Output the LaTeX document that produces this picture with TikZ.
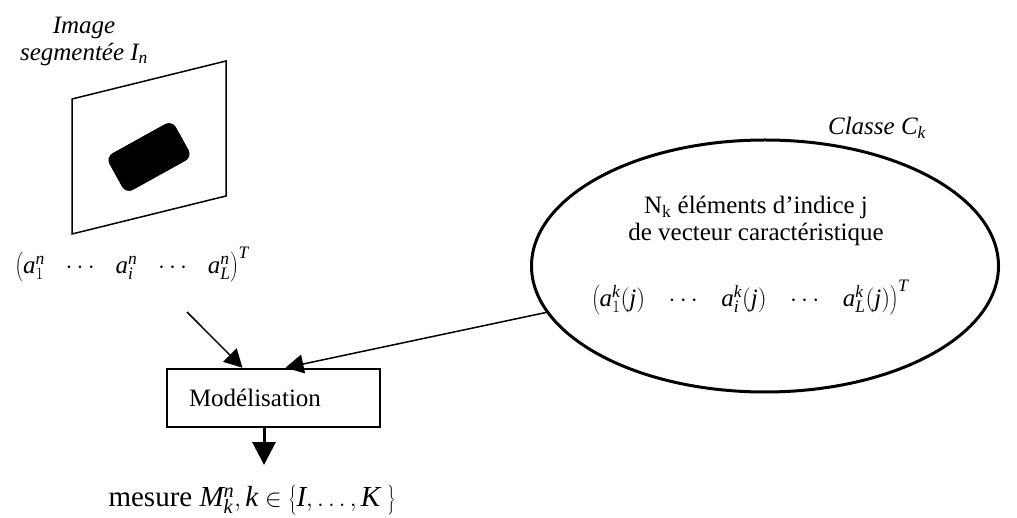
\documentclass[tikz,border=0pt]{standalone}
\usepackage{fontspec}
\setmainfont{Liberation Serif}
\usetikzlibrary{shapes.geometric, arrows.meta, positioning, calc}
\newcommand{\itm}[1]{\mathit{#1}}
\newcommand{\tallstrut}{\vrule height 20pt depth 9pt width 0pt}

\begin{document}
\begin{tikzpicture}[x=1pt, y=-1pt, every node/.style={font=\fontsize{25}{27}\selectfont, align=center, inner sep=0pt},
  inarrow/.style={-{Triangle[length=18pt,width=19pt]}, line width=1.5pt},
  outarrow/.style={-{Triangle[length=23pt,width=23pt]}, line width=3pt}]
\useasboundingbox (0,0) rectangle (1017,518);

% image segmentee
\node (imgTitle) [font=\fontsize{25}{27}\selectfont\itshape] at (84,41) {Image\\segmentée $\itm{I}_{\itm{n}}$};
\draw[line width=1.5pt] (72,99) -- (226,61) -- (226,196) -- (72,234) -- cycle;
\node (blob) [fill=black, rounded corners=8pt, minimum width=76pt, minimum height=42pt, rotate=29] at (149,157) {};
\node (imgVec) at (132,265) {$\left(\tallstrut\itm{a}_1^{\itm{n}} \enspace\,\cdots\enspace\, \itm{a}_{\itm{i}}^{\itm{n}} \enspace\,\cdots\enspace\, \itm{a}_{\itm{L}}^{\itm{n}}\right)^{\itm{T}}$};
\coordinate (fromImg) at (187,312);

% classe
\node (classe) [ellipse, draw, line width=3pt, minimum width=467pt, minimum height=252pt] at (765,266) {};
\node (classeName) [font=\fontsize{25}{27}\selectfont\itshape] at (877,128) {Classe $\itm{C}_{\itm{k}}$};
\node (elemText) at (756,221) {N\textsubscript{k} éléments d’indice j\\de vecteur caractéristique};
\node (classeVec) at (750,298) {$\left(\tallstrut\itm{a}_1^{\itm{k}}(\itm{j}) \enspace\;\cdots\enspace\; \itm{a}_{\itm{i}}^{\itm{k}}(\itm{j}) \enspace\;\cdots\enspace\; \itm{a}_{\itm{L}}^{\itm{k}}(\itm{j})\right)^{\itm{T}}$};

% modelisation
\node (modele) [draw, line width=2.5pt, minimum width=213pt, minimum height=58pt, text width=169pt, inner xsep=22pt, align=left] at (273.5,398) {Modélisation};
\node (mesure) [font=\fontsize{29}{31}\selectfont] at (252,500) {mesure $\itm{M}_{\itm{k}}^{\itm{n}}, \itm{k} \in \left\{\vrule height 22pt depth 9pt width 0pt\itm{I}, \ldots, \itm{K}\ \right\}$};
\coordinate (mesTip) at (264,465);

\draw[inarrow] (fromImg) -- ($(modele.north)+(-31,0)$);
\draw[inarrow] (classe) -- ($(modele.north)+(12,0)$);
\draw[outarrow] (modele.south -| mesTip) -- (mesTip);
\end{tikzpicture}
\end{document}
